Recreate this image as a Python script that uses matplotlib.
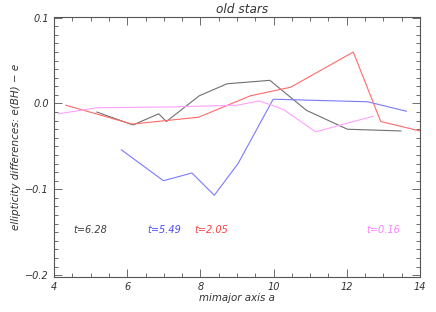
import matplotlib
matplotlib.use("Agg")
import matplotlib.pyplot as plt
from matplotlib.ticker import MultipleLocator, FixedLocator

# Data
gray_x = [5.17, 6.16, 6.86, 7.07, 7.97, 8.73, 9.90, 10.9, 12.02, 13.48]
gray_y = [-0.010, -0.025, -0.012, -0.021, 0.009, 0.023, 0.027, -0.008, -0.030, -0.032]

blue_x = [5.84, 6.99, 7.77, 8.38, 9.03, 9.99, 12.57, 13.63]
blue_y = [-0.054, -0.090, -0.081, -0.107, -0.070, 0.005, 0.002, -0.009]

red_x = [4.32, 6.13, 7.95, 9.37, 10.47, 12.18, 12.93, 14.0]
red_y = [-0.002, -0.024, -0.016, 0.009, 0.019, 0.060, -0.021, -0.032]

pink_x = [4.12, 5.17, 7.22, 9.0, 9.62, 10.27, 11.15, 12.71]
pink_y = [-0.012, -0.005, -0.004, -0.002, 0.003, -0.007, -0.033, -0.015]

labels = ["t=6.28", "t=5.49", "t=2.05", "t=0.16"]
label_x = [4.52, 6.55, 7.84, 12.55]
label_y = -0.147

xticks = [4, 6, 8, 10, 12, 14]
yticks = [-0.2, -0.1, 0.0, 0.1]
ytick_labels = ["\u22120.2", "\u22120.1", "0.0", "0.1"]

c_gray = "#707070"
c_blue = "#7a7aff"
c_red = "#ff6a6a"
c_pink = "#ffa0ff"
label_colors = ["#404040", "#4a4aff", "#ff4040", "#ff80ff"]

fig = plt.figure(figsize=(4.36, 3.12), dpi=100)
ax = fig.add_axes([0.124, 0.112, 0.839, 0.834])

lw = 0.8
ax.plot(gray_x, gray_y, color=c_gray, lw=lw)
ax.plot(blue_x, blue_y, color=c_blue, lw=lw)
ax.plot(red_x, red_y, color=c_red, lw=lw)
ax.plot(pink_x, pink_y, color=c_pink, lw=lw)

fs = 7
for txt, x, col in zip(labels, label_x, label_colors):
    ax.text(x, label_y, txt, color=col, fontsize=fs, style="italic",
            ha="left", va="center")

ax.set_xlim(4, 14)
ax.set_ylim(-0.2023, 0.101)
ax.xaxis.set_major_locator(FixedLocator(xticks))
ax.xaxis.set_minor_locator(MultipleLocator(0.5))
ax.yaxis.set_major_locator(FixedLocator(yticks))
ax.set_yticklabels(ytick_labels)
ax.yaxis.set_minor_locator(MultipleLocator(0.01))

axc = "#555555"
ax.tick_params(which="both", direction="in", top=True, right=True,
               colors=axc, labelcolor="#333333", labelsize=fs, width=0.6)
ax.tick_params(which="major", length=6)
ax.tick_params(which="minor", length=3)
for lab in ax.get_xticklabels() + ax.get_yticklabels():
    lab.set_style("italic")
for s in ax.spines.values():
    s.set_color(axc)
    s.set_linewidth(0.8)

ax.set_title("old stars", fontsize=8.7, style="italic", color="#333333", pad=3, x=0.513)
ax.set_xlabel("mimajor axis a", fontsize=7.4, style="italic", color="#333333", labelpad=1)
ax.set_ylabel("ellipticity differences: e(BH) \u2212 e", fontsize=7.5, style="italic",
              color="#333333", labelpad=3)

fig.savefig("out.png", dpi=100)
